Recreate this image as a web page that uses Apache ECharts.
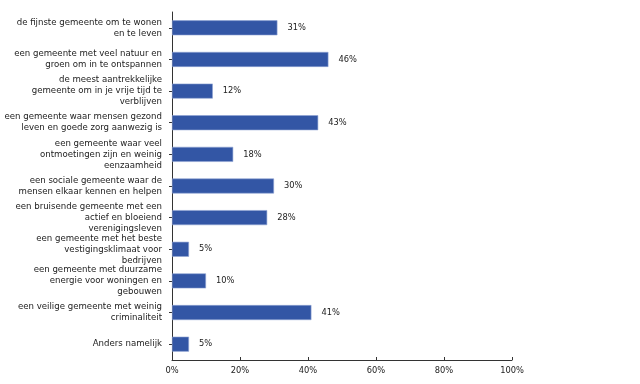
<!DOCTYPE html>
<html><head><meta charset="utf-8">
<script src="https://cdn.jsdelivr.net/npm/echarts@6/dist/echarts.min.js"></script>
<style>html,body{margin:0;padding:0;background:#fff}#c{width:640px;height:384px}</style>
</head><body><div id="c"></div>
<script>
const categories = [
  "de fijnste gemeente om te wonen\nen te leven",
  "een gemeente met veel natuur en\ngroen om in te ontspannen",
  "de meest aantrekkelijke\ngemeente om in je vrije tijd te\nverblijven",
  "een gemeente waar mensen gezond\nleven en goede zorg aanwezig is",
  "een gemeente waar veel\nontmoetingen zijn en weinig\neenzaamheid",
  "een sociale gemeente waar de\nmensen elkaar kennen en helpen",
  "een bruisende gemeente met een\nactief en bloeiend\nverenigingsleven",
  "een gemeente met het beste\nvestigingsklimaat voor\nbedrijven",
  "een gemeente met duurzame\nenergie voor woningen en\ngebouwen",
  "een veilige gemeente met weinig\ncriminaliteit",
  "Anders namelijk"
];
const values = [31, 46, 12, 43, 18, 30, 28, 5, 10, 41, 5];
const xTicks = [0, 20, 40, 60, 80, 100];

const chart = echarts.init(document.getElementById('c'), null, {renderer: 'canvas'});
const font = 'DejaVu Sans';
chart.setOption({
  animation: false,
  grid: {left: 172, top: 12, width: 340, height: 348, containLabel: false},
  xAxis: {
    type: 'value', min: 0, max: 100, interval: 20,
    axisLine: {show: true, lineStyle: {color: '#333', width: 1}},
    axisTick: {show: true, inside: true, length: 3, lineStyle: {color: '#333'}},
    splitLine: {show: false},
    axisLabel: {formatter: v => xTicks.includes(v) ? v + '%' : '', fontFamily: font, fontSize: 8.3, color: '#222', margin: 7}
  },
  yAxis: {
    type: 'category', data: categories, inverse: true,
    axisLine: {show: true, lineStyle: {color: '#333', width: 1}},
    axisTick: {show: true, alignWithLabel: true, length: 3, lineStyle: {color: '#333'}},
    axisLabel: {fontFamily: font, fontSize: 8.6, color: '#222', lineHeight: 11, margin: 10, align: 'right', interval: 0}
  },
  series: [{
    type: 'bar', data: values, barWidth: 15,
    itemStyle: {color: '#3356a5', borderColor: '#8ea3d4', borderWidth: 0.6},
    label: {show: true, position: 'right', distance: 10, formatter: p => p.value + '%', fontFamily: font, fontSize: 8.3, color: '#222'}
  }]
});
</script></body></html>
